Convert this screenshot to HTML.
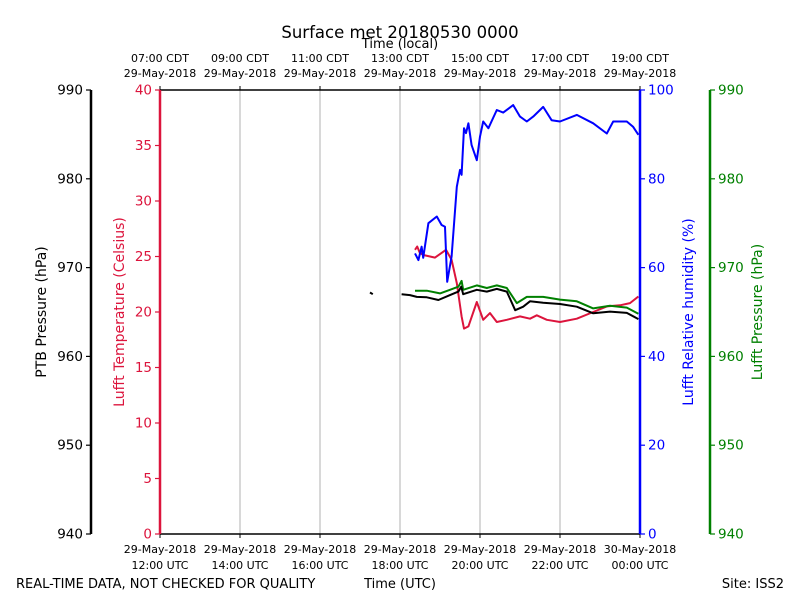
<!DOCTYPE html>
<html><head><meta charset="utf-8"><style>
body{margin:0;background:#fff}
svg{font-family:"DejaVu Sans","Liberation Sans",sans-serif;display:block}
</style></head><body>
<svg id="chart" width="800" height="600" viewBox="0 0 800 600" xmlns="http://www.w3.org/2000/svg">
<rect width="800" height="600" fill="#fff"/>
<g id="grid"></g>
<g id="series"></g>
<g id="axes"></g>
<text x="400" y="38" font-size="16.5" text-anchor="middle">Surface met 20180530 0000</text>
<text x="400" y="48" font-size="13" text-anchor="middle">Time (local)</text>
<text x="400" y="588" font-size="13" text-anchor="middle">Time (UTC)</text>
<text x="16" y="588" font-size="13">REAL-TIME DATA, NOT CHECKED FOR QUALITY</text>
<text x="784" y="588" font-size="13" text-anchor="end">Site: ISS2</text>
<text transform="translate(46,312) rotate(-90)" font-size="14" text-anchor="middle">PTB Pressure (hPa)</text>
<text transform="translate(124,312) rotate(-90)" font-size="14" text-anchor="middle" fill="#dc143c">Lufft Temperature (Celsius)</text>
<text transform="translate(693,312) rotate(-90)" font-size="14" text-anchor="middle" fill="#0000ff">Lufft Relative humidity (%)</text>
<text transform="translate(762,312) rotate(-90)" font-size="14" text-anchor="middle" fill="#008000">Lufft Pressure (hPa)</text>
</svg>
<script>
// time in hours after 2018-05-29 12:00 UTC
const rhTimes=[6.375,6.46,6.54,6.58,6.71,6.92,7.04,7.125,7.18,7.29,7.42,7.5,7.54,7.6,7.65,7.71,7.79,7.92,8.0,8.08,8.21,8.42,8.58,8.83,9.0,9.17,9.33,9.58,9.79,10.0,10.42,10.83,11.17,11.33,11.67,11.83,11.96];
const rhValues=[63.2,61.7,64.7,62.2,70.0,71.5,69.6,69.2,56.8,62.5,78.2,82.0,80.9,91.4,90.3,92.5,87.6,84.2,89.5,92.9,91.4,95.5,94.9,96.6,94.0,92.9,94.0,96.2,93.2,92.9,94.4,92.5,90.2,92.9,92.9,91.7,89.9];
const tempTimes=[6.375,6.43,6.5,6.625,6.875,7.15,7.29,7.42,7.54,7.6,7.71,7.92,8.08,8.25,8.42,8.67,9.0,9.25,9.42,9.67,10.0,10.42,10.83,11.17,11.5,11.75,11.96];
const tempValues=[25.6,25.9,25.3,25.1,24.9,25.6,24.7,22.6,19.6,18.5,18.7,20.9,19.3,19.9,19.1,19.3,19.6,19.4,19.7,19.3,19.1,19.4,20.0,20.5,20.6,20.8,21.4];
const lufftPTimes=[6.375,6.67,7.0,7.25,7.46,7.54,7.58,7.92,8.17,8.42,8.67,8.92,9.17,9.58,10.0,10.42,10.83,11.25,11.67,11.96];
const lufftPValues=[967.4,967.4,967.1,967.5,967.85,968.5,967.5,968.0,967.7,968.0,967.7,966.0,966.7,966.7,966.4,966.2,965.4,965.7,965.5,964.8];
const ptbTimes=[6.04,6.25,6.42,6.67,6.96,7.25,7.46,7.53,7.58,7.92,8.17,8.42,8.67,8.88,9.08,9.25,9.58,10.0,10.42,10.83,11.25,11.67,11.96];
const ptbValues=[967.0,966.9,966.7,966.65,966.35,966.9,967.3,967.85,967.0,967.5,967.3,967.6,967.3,965.2,965.6,966.2,966.05,965.9,965.6,964.85,965.05,964.9,964.2];
const ptbDotTimes=[5.25,5.32];
const ptbDotValues=[967.2,967.0];
const xTicks=[0,2,4,6,8,10,12];
const utcLabels=["29-May-2018|12:00 UTC","29-May-2018|14:00 UTC","29-May-2018|16:00 UTC","29-May-2018|18:00 UTC","29-May-2018|20:00 UTC","29-May-2018|22:00 UTC","30-May-2018|00:00 UTC"];
const localLabels=["07:00 CDT|29-May-2018","09:00 CDT|29-May-2018","11:00 CDT|29-May-2018","13:00 CDT|29-May-2018","15:00 CDT|29-May-2018","17:00 CDT|29-May-2018","19:00 CDT|29-May-2018"];
const pTicks=[940,950,960,970,980,990];
const tempTicks=[0,5,10,15,20,25,30,35,40];
const rhTicks=[0,20,40,60,80,100];

const NS="http://www.w3.org/2000/svg";
const L=160,R=640,T=90,B=534;
const xs=h=>L+(R-L)*h/12;
const yT=v=>B-(B-T)*v/40;
const yRH=v=>B-(B-T)*v/100;
const yP=v=>B-(B-T)*(v-940)/50;
function mk(tag,parent,attrs){const e=document.createElementNS(NS,tag);for(const k in attrs)e.setAttribute(k,attrs[k]);parent.appendChild(e);return e;}
const grid=document.getElementById('grid'),series=document.getElementById('series'),axes=document.getElementById('axes');

xTicks.forEach((h,i)=>{
  const x=xs(h);
  if(i>0&&i<xTicks.length-1){const g=mk('line',grid,{x1:x,x2:x,y1:T,y2:B,stroke:'#b0b0b0','stroke-width':1});
  
  }
  mk('line',axes,{x1:x,x2:x,y1:B,y2:B+4,stroke:'#000'});
  mk('line',axes,{x1:x,x2:x,y1:T,y2:T-4,stroke:'#000'});
  const [a,b]=utcLabels[i].split('|');
  const t=mk('text',axes,{x:x,y:553,'font-size':11,'text-anchor':'middle'});t.textContent=a;
  
  
  const t2=mk('text',axes,{x:x,y:569,'font-size':11,'text-anchor':'middle'});t2.textContent=b;
  
  
  const [c,d]=localLabels[i].split('|');
  const t3=mk('text',axes,{x:x,y:62,'font-size':11,'text-anchor':'middle'});t3.textContent=c;
  
  
  const t4=mk('text',axes,{x:x,y:77,'font-size':11,'text-anchor':'middle'});t4.textContent=d;
  
  
});
mk('line',axes,{x1:L,x2:R,y1:T,y2:T,stroke:'#000','stroke-width':1.5});
mk('line',axes,{x1:L,x2:R,y1:B,y2:B,stroke:'#000','stroke-width':1.5});

function yaxis(x,ticks,yf,color,side,name){
  const s=mk('line',axes,{x1:x,x2:x,y1:T,y2:B,stroke:color,'stroke-width':2.5});
  
  
  ticks.forEach(v=>{const y=yf(v);
    mk('line',axes,{x1:x,x2:x+side*5,y1:y,y2:y,stroke:color,'stroke-width':1.2});
    const t=mk('text',axes,{x:x+side*8,y:y+4.5,'font-size':13.5,fill:color,'text-anchor':side<0?'end':'start'});
    t.textContent=v;
    
    
  });
}
yaxis(91,pTicks,yP,'#000',-1,'ptb-axis');
yaxis(L,tempTicks,yT,'#dc143c',-1,'temp-axis');
yaxis(R,rhTicks,yRH,'#0000ff',1,'rh-axis');
yaxis(710,pTicks,yP,'#008000',1,'lufft-pressure-axis');

function line(times,vals,yf,color,name){
  const d=times.map((t,i)=>(i?'L':'M')+xs(t).toFixed(1)+','+yf(vals[i]).toFixed(1)).join('');
  const p=mk('path',series,{d:d,fill:'none',stroke:color,'stroke-width':2,'stroke-linejoin':'round'});
  
  
}
line(tempTimes,tempValues,yT,'#dc143c','temperature-line');
line(rhTimes,rhValues,yRH,'#0000ff','humidity-line');
line(lufftPTimes,lufftPValues,yP,'#008000','lufft-pressure-line');
line(ptbTimes,ptbValues,yP,'#000','ptb-pressure-line');
line(ptbDotTimes,ptbDotValues,yP,'#000','ptb-pressure-fragment');
</script>
</body></html>
